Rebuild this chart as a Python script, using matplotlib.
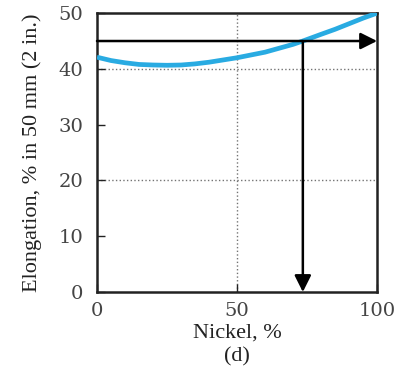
import numpy as np
import matplotlib.pyplot as plt

# curve
nickel = [0, 5, 10, 15, 20, 25, 30, 35, 40, 45, 50, 55, 60, 65, 70, 73.5, 80, 85, 90, 95, 100]
elong = [42.1, 41.5, 41.1, 40.8, 40.7, 40.65, 40.7, 40.9, 41.2, 41.6, 42.0, 42.5, 43.0, 43.7, 44.4,
         45.0, 46.2, 47.1, 48.1, 49.1, 50.0]

x_ticks = [0, 50, 100]
y_ticks = [0, 10, 20, 30, 40, 50]
target = 45      # elongation read across
cross = 73.5     # nickel % where it crosses

plt.rcParams['font.family'] = ['Liberation Serif', 'DejaVu Serif']

fig = plt.figure(figsize=(4.05, 3.75), dpi=100)
ax = fig.add_axes([0.2395, 0.2213, 0.6915, 0.7437])

ax.plot(nickel, elong, color='#29abe2', lw=3.4, solid_capstyle='butt', zorder=3)

# dotted grid
ax.axvline(50, color='0.45', ls=':', lw=1, zorder=1)
for yy in [20, 40]:
    ax.axhline(yy, color='0.45', ls=':', lw=1, zorder=1)

# arrows
ax.annotate('', xy=(100, target), xytext=(0, target),
            arrowprops=dict(arrowstyle='-|>', color='black', lw=1.8,
                            mutation_scale=25, shrinkA=0, shrinkB=0), zorder=4)
ax.annotate('', xy=(cross, 0), xytext=(cross, target),
            arrowprops=dict(arrowstyle='-|>', color='black', lw=1.8,
                            mutation_scale=25, shrinkA=0, shrinkB=0), zorder=4)

ax.set_xlim(0, 100)
ax.set_ylim(0, 50)
ax.set_xticks(x_ticks)
ax.set_yticks(y_ticks)
ax.tick_params(direction='in', length=6, width=1, colors='#222222')
ax.tick_params(axis='y', pad=10)
ax.tick_params(axis='x', pad=7)
for lab in ax.get_xticklabels() + ax.get_yticklabels():
    lab.set_family('DejaVu Serif')
    lab.set_fontsize(14)
    lab.set_color('#444444')
for s in ax.spines.values():
    s.set_linewidth(1.8)
    s.set_color('#222222')

ax.set_xlabel('Nickel, %\n(d)', fontsize=16, color='#222222', labelpad=3, linespacing=1.3)
ax.set_ylabel('Elongation, % in 50 mm (2 in.)', fontsize=16, color='#222222', labelpad=12)

fig.savefig('out.png', dpi=100)
